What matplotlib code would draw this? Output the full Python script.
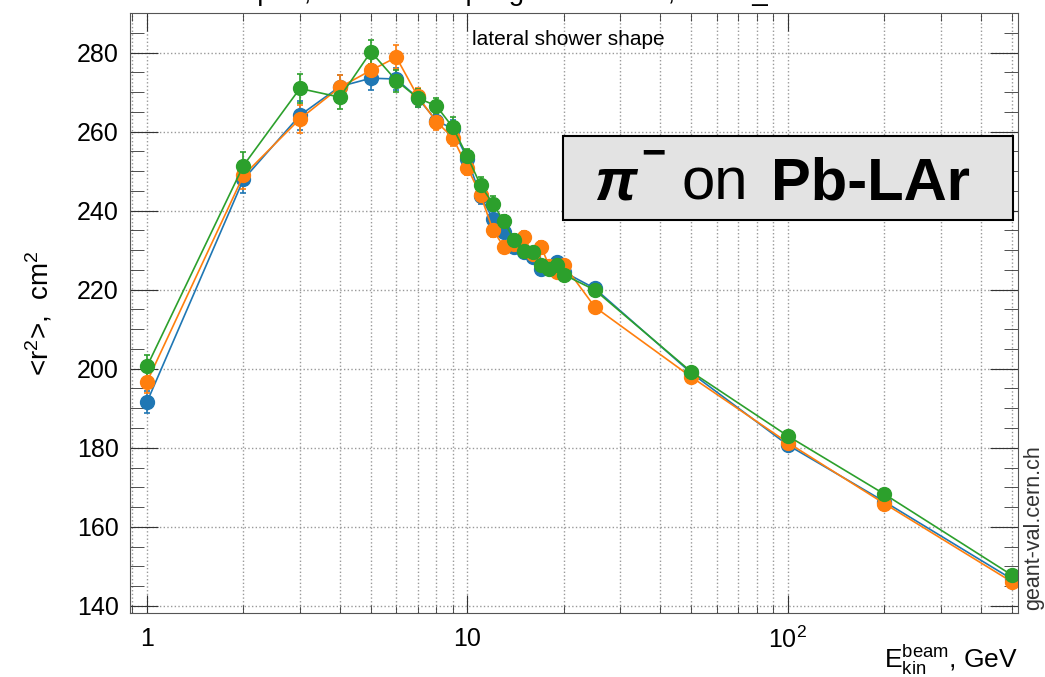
import numpy as np
import matplotlib
matplotlib.use('Agg')
import matplotlib.pyplot as plt
from matplotlib.ticker import FixedLocator, LogLocator, MultipleLocator, NullFormatter
from matplotlib.patches import Rectangle

plt.rcParams['font.family'] = ['Liberation Sans', 'DejaVu Sans']
plt.rcParams['mathtext.fontset'] = 'custom'
plt.rcParams['mathtext.rm'] = 'Liberation Sans'
plt.rcParams['mathtext.it'] = 'Liberation Sans:italic'
plt.rcParams['mathtext.bf'] = 'Liberation Sans:bold'

# beam energies, GeV
energy = [1, 2, 3, 4, 5, 6, 7, 8, 9, 10, 11, 12, 13, 14, 15, 16, 17, 18, 19, 20,
          25, 50, 100, 200, 500]

# <r^2> in cm^2 for the three series
r2_blue = [191.6, 247.9, 264.1, 271.4, 273.5, 273.3, 268.5, 262.8, 260.7, 253.1,
           243.6, 238.0, 234.6, 230.8, 229.5, 228.3, 225.3, 225.7, 226.9, 224.5,
           220.3, 198.9, 180.7, 166.4, 146.8]
r2_orange = [196.7, 248.9, 263.2, 271.2, 275.5, 278.8, 268.9, 262.5, 258.5, 250.9,
             243.9, 235.2, 230.8, 231.5, 233.3, 229.0, 230.8, 226.0, 224.5, 226.3,
             215.6, 197.9, 181.3, 165.9, 146.1]
r2_green = [200.6, 251.4, 270.9, 268.7, 280.2, 272.9, 268.5, 266.5, 261.1, 253.7,
            246.4, 241.8, 237.3, 232.5, 229.8, 229.5, 226.2, 225.3, 226.2, 223.8,
            219.9, 199.2, 183.0, 168.3, 147.8]

err_blue = [2.8, 3.5, 3.6, 3.0, 3.0, 2.8, 2.2, 2.0, 2.2, 2.0, 2.0, 1.8, 1.6, 1.5, 1.5,
            1.4, 1.4, 1.4, 1.3, 1.3, 1.0, 0.6, 0.5, 0.4, 0.3]
err_orange = [2.8, 3.4, 3.5, 3.0, 3.0, 3.0, 2.2, 2.0, 2.2, 2.0, 2.0, 1.8, 1.6, 1.5, 1.5,
              1.4, 1.4, 1.4, 1.3, 1.3, 1.0, 0.6, 0.5, 0.4, 0.3]
err_green = [3.0, 3.4, 3.7, 3.0, 3.0, 2.8, 2.2, 2.0, 2.5, 2.0, 2.1, 1.8, 1.6, 1.5, 1.5,
             1.4, 1.4, 1.4, 1.3, 1.3, 1.0, 0.6, 0.5, 0.4, 0.3]

series = [(r2_blue, err_blue, '#1f77b4'),
          (r2_orange, err_orange, '#ff7f0e'),
          (r2_green, err_green, '#2ca02c')]

W, H = 1045, 677
fig = plt.figure(figsize=(W / 100, H / 100), dpi=100)
ax = fig.add_axes([130 / W, 1 - 613 / H, 888 / W, 600 / H])

for vals, errs, col in series:
    ax.errorbar(energy, vals, yerr=errs, color=col, marker='o', ms=10, lw=1.2,
                elinewidth=1.2, capsize=2.5, capthick=1.2)

ax.set_xscale('log')
ax.set_xlim(0.885, 523)
ax.set_ylim(138.2, 290)

ax.xaxis.set_major_locator(FixedLocator([1, 10, 100]))
ax.set_xticklabels(['1', '10', '10$^2$'])
ax.xaxis.set_minor_locator(LogLocator(subs=np.arange(2, 10)))
ax.xaxis.set_minor_formatter(NullFormatter())
ax.yaxis.set_major_locator(MultipleLocator(20))
ax.yaxis.set_minor_locator(MultipleLocator(5))

ax.grid(which='both', axis='x', ls=':', color='#999999', lw=1)
ax.grid(which='major', axis='y', ls=':', color='#999999', lw=1)
ax.set_axisbelow(True)

ax.tick_params(which='both', direction='in', top=True, right=True, labelsize=18,
               color='#333333')
ax.tick_params(axis='y', which='major', length=20, pad=8)
ax.tick_params(axis='y', which='minor', length=10)
ax.tick_params(axis='x', which='major', length=13, pad=10)
ax.tick_params(axis='x', which='minor', length=6)
for sp in ax.spines.values():
    sp.set_color('#555555')

ax.set_ylabel('<r$^2$>,  cm$^2$', fontsize=20, labelpad=16)
fig.text(1018 / W, 1 - 668 / H, r'E$_{\rm kin}^{\rm beam}$, GeV', fontsize=19,
         ha='right', va='baseline')

# title sits above the top edge, only its descenders show
fig.text(470 / W, 1.0, 'Geant4 11.2.p01, Pb-LAr sampling calorimeter, FTFP_BERT',
         fontsize=20, ha='center', va='baseline')

ax.text(0.385, 0.972, 'lateral shower shape', transform=ax.transAxes, fontsize=15,
        ha='left', va='top')

def px(x, y):
    return x / W, 1 - y / H

fig.patches.append(Rectangle(px(563, 220), 450 / W, 84 / H, transform=fig.transFigure,
                             facecolor='#e3e3e3', edgecolor='black', lw=1.5, zorder=5))
fig.text(*px(594, 200), 'π', fontsize=43, fontweight='bold', fontstyle='italic',
         ha='left', va='baseline', zorder=6)
fig.text(*px(653, 154), '−', fontsize=30, fontweight='bold', ha='center', va='center',
         zorder=6)
fig.text(*px(681, 200), 'on', fontsize=43, ha='left', va='baseline', zorder=6)
fig.text(*px(771, 200), 'Pb-LAr', fontsize=43, fontweight='bold', ha='left',
         va='baseline', zorder=6)

fig.text(*px(1034, 528), 'geant-val.cern.ch', fontsize=15.5, rotation=90,
         ha='center', va='center', color='#333333')

fig.savefig('out.png', dpi=100)
